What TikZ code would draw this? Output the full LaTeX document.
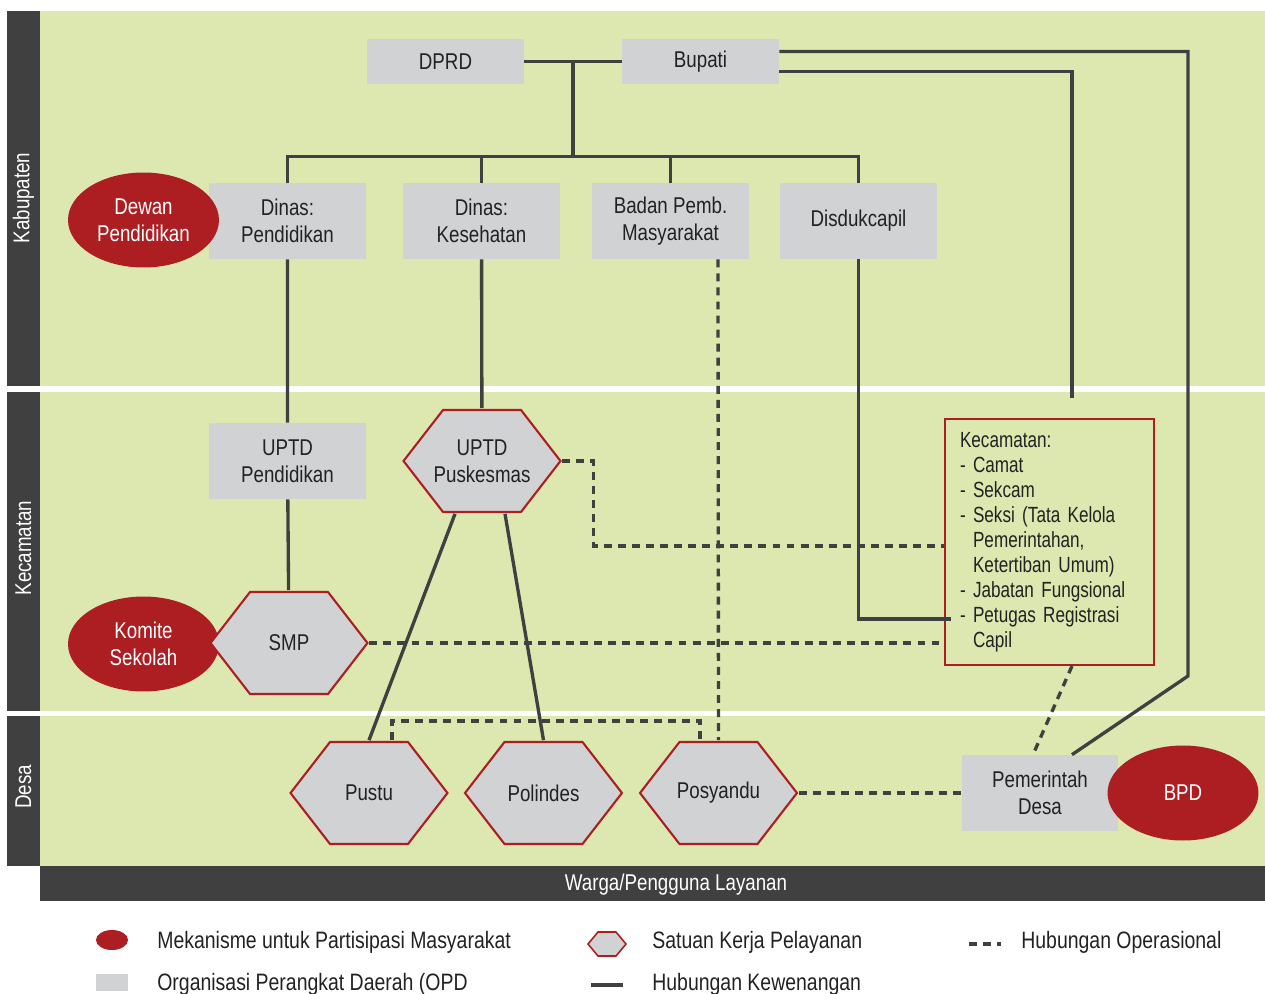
\documentclass[tikz,border=0pt]{standalone}
\usepackage{fontspec}
\setmainfont{Liberation Sans}[FakeStretch=0.82]
\newfontfamily\kecfont{Liberation Sans}[FakeStretch=0.78]
\usetikzlibrary{shapes.geometric, calc}
\definecolor{gr}{HTML}{DCE8B0}
\definecolor{bx}{HTML}{D1D2D4}
\definecolor{rd}{HTML}{AD1E23}
\definecolor{dk}{HTML}{404040}
\definecolor{tx}{HTML}{222222}
\tikzset{
    barlabel/.style={text=white, font=\fontsize{13}{15}\selectfont, inner sep=0},
    opd/.style={fill=bx, text=tx, minimum width=3.14cm, minimum height=1.52cm, inner sep=0,
        align=center, font=\fontsize{13}{15.5}\selectfont},
    partisipasi/.style={ellipse, fill=rd, text=white, minimum width=3.02cm, minimum height=1.9cm,
        inner sep=0, align=center, font=\fontsize{13}{15.5}\selectfont},
    satker/.style={minimum width=3.2cm, minimum height=2.1cm, inner sep=0, text=tx,
        align=center, font=\fontsize{13}{15.5}\selectfont,
        path picture={
            \draw[rd, fill=bx, line width=1.2pt] ([xshift=-1.57cm]path picture bounding box.center)
                -- ++(0.79cm,1.02cm) -- ++(1.56cm,0cm) -- ++(0.79cm,-1.02cm)
                -- ++(-0.79cm,-1.02cm) -- ++(-1.56cm,0cm) -- cycle;
        }},
    kecbox/.style={draw=rd, line width=1.2pt, text=tx, text width=3.58cm, inner xsep=0.3cm,
        minimum height=4.92cm, align=left, font=\kecfont\fontsize{12.5}{14.2}\selectfont},
    legend/.style={anchor=west, text=tx, inner sep=0, font=\fontsize{13.5}{16}\selectfont},
    rel/.style={draw=dk, line width=1.9pt},
    ops/.style={draw=dk, line width=1.9pt, dash pattern=on 4.5pt off 3.5pt}
}

\begin{document}
\begin{tikzpicture}[x=0.02cm, y=-0.02cm]
    \useasboundingbox (0,0) rectangle (1265,994);
    % bands
    \fill[gr] (40,11) rectangle (1265,386);
    \fill[gr] (40,392) rectangle (1265,711);
    \fill[gr] (40,716) rectangle (1265,866);
    \fill[dk] (7,11) rectangle (40,386);
    \fill[dk] (7,392) rectangle (40,711);
    \fill[dk] (7,716) rectangle (40,866);
    \fill[dk] (40,866) rectangle (1265,901);
    \node[barlabel, rotate=90] (kab) at (23.5,198) {Kabupaten};
    \node[barlabel, rotate=90] (kcm) at (23.5,548) {Kecamatan};
    \node[barlabel, rotate=90] (desa) at (23.5,787) {Desa};
    \node[barlabel] (warga) at (676,885) {Warga/Pengguna Layanan};

    % kabupaten
    \node[opd, minimum height=0.9cm] (dprd) at (445.5,61.5) {DPRD};
    \node[opd, minimum height=0.9cm] (bupati) at (700.5,61.5) {Bupati};
    \node[opd] (dinpend) at (287.5,221) {Dinas:\\Pendidikan};
    \node[opd] (dinkes) at (481.5,221) {Dinas:\\Kesehatan};
    \node[opd] (bapem) at (670.5,221) {Badan Pemb.\\Masyarakat};
    \node[opd] (disduk) at (858.5,221) {Disdukcapil};
    \node[partisipasi] (dewan) at (143.5,220) {Dewan\\Pendidikan};

    % kecamatan
    \node[opd] (uptdpend) at (287.5,461) {UPTD\\Pendidikan};
    \node[satker] (puske) at (482,461) {UPTD\\Puskesmas};
    \node[partisipasi] (komite) at (143.5,644) {Komite\\Sekolah};
    \node[satker] (smp) at (289,643) {SMP};
    \node[kecbox] (kec) at (1049.5,542) {Kecamatan:\\- Camat\\- Sekcam\\- Seksi (Tata Kelola\\
        \phantom{- }Pemerintahan,\\\phantom{- }Ketertiban Umum)\\- Jabatan Fungsional\\
        - Petugas Registrasi\\\phantom{- }Capil};

    % desa
    \node[satker] (pustu) at (369,793) {Pustu};
    \node[satker] (polin) at (543.5,793) {Polindes};
    \node[satker] (posy) at (718.5,793) {Posyandu};
    \node[opd] (pemdes) at (1040,793) {Pemerintah\\Desa};
    \node[partisipasi] (bpd) at (1183,793) {BPD};

    % hubungan kewenangan
    \draw[rel] (dprd) -- (bupati);
    \draw[rel] ($(dprd.east)!.5!(bupati.west)$) -- ++(0,95);
    \draw[rel] (dinpend.north) -- ++(0,-26) -| (disduk.north);
    \draw[rel] (dinkes.north) -- ++(0,-26);
    \draw[rel] (bapem.north) -- ++(0,-26);
    \draw[rel] ([yshift=0.2cm]bupati.east) -| (1188,676) -- ([xshift=0.64cm]pemdes.north);
    \draw[rel] ([yshift=-0.2cm]bupati.east) -| (1072,398);
    \draw[rel] (disduk.south) |- ($(kec.west)+(7,77)$);
    \draw[rel] (dinpend) -- (uptdpend) -- (smp);
    \draw[rel] (dinkes) -- (puske);
    \draw[rel] ([xshift=-0.54cm]puske.south) -- (pustu.north);
    \draw[rel] ([xshift=0.46cm]puske.south) -- (polin.north);

    % hubungan operasional
    \draw[ops] ([xshift=0.95cm]bapem.south) -- (posy.north);
    \draw[ops] (puske.east) -- ++(31,0) |- ($(kec.west)+(0,4)$);
    \draw[ops] (smp.east) -- (smp.east -| kec.west);
    \draw[ops] ([xshift=0.46cm]pustu.north) -- ++(0,-19) -| ([xshift=-0.37cm]posy.north);
    \draw[ops] (posy.east) -- (pemdes.west);
    \draw[ops] ([xshift=0.45cm]kec.south) -- ([xshift=-0.14cm]pemdes.north);

    % legenda
    \node[partisipasi, minimum width=0.64cm, minimum height=0.4cm] (lgpart) at (112,940) {};
    \node[legend] (lgparttx) at (157,942) {Mekanisme untuk Partisipasi Masyarakat};
    \node[opd, minimum width=0.64cm, minimum height=0.34cm] (lgopd) at (112,982.5) {};
    \node[legend] (lgopdtx) at (157,984) {Organisasi Perangkat Daerah (OPD};
    \draw[rd, fill=bx, line width=0.9pt] (588,944) -- (598,932) -- (616,932) -- (626,944)
        -- (616,956) -- (598,956) -- cycle;
    \node[legend] (lgsattx) at (652,942) {Satuan Kerja Pelayanan};
    \coordinate (lgrela) at (591,985);
    \coordinate (lgrelb) at (623,985);
    \draw[rel] (lgrela) -- (lgrelb);
    \node[legend] (lgreltx) at (652,984) {Hubungan Kewenangan};
    \coordinate (lgopsa) at (969,944);
    \coordinate (lgopsb) at (1001,944);
    \draw[ops] (lgopsa) -- (lgopsb);
    \node[legend] (lgopstx) at (1021,942) {Hubungan Operasional};
\end{tikzpicture}
\end{document}
